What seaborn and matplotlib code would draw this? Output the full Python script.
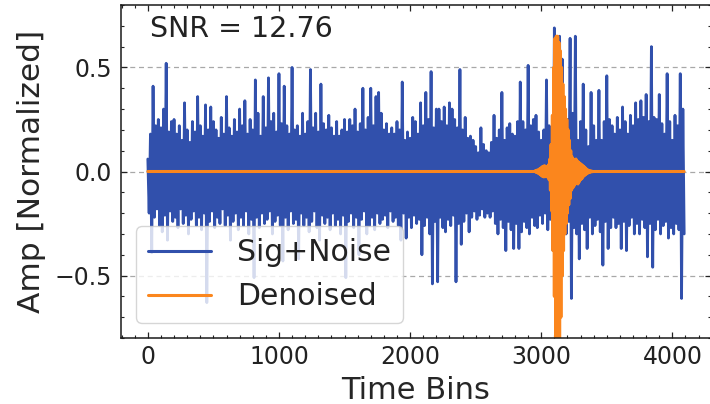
"""
Sig+Noise vs denoised trace, amplitude over time bins
"""

import numpy as np
import pandas as pd
import matplotlib
matplotlib.use("Agg")
import matplotlib.pyplot as plt
from matplotlib.ticker import MultipleLocator
import seaborn as sns

# Noisy trace: upper excursions (bins 0, 20, 40, ...)
peaks = [
    0.06, 0.18, 0.41, 0.22, 0.25, 0.21, 0.30, 0.52, 0.19, 0.24,
    0.25, 0.18, 0.22, 0.15, 0.33, 0.20, 0.14, 0.24, 0.19, 0.36,
    0.22, 0.17, 0.32, 0.20, 0.31, 0.24, 0.20, 0.16, 0.26, 0.18,
    0.36, 0.21, 0.17, 0.25, 0.19, 0.30, 0.22, 0.34, 0.18, 0.25,
    0.20, 0.44, 0.28, 0.17, 0.36, 0.21, 0.45, 0.24, 0.28, 0.19,
    0.47, 0.23, 0.41, 0.22, 0.18, 0.50, 0.20, 0.22, 0.17, 0.28,
    0.18, 0.24, 0.49, 0.21, 0.28, 0.19, 0.42, 0.23, 0.20, 0.27,
    0.21, 0.17, 0.24, 0.17, 0.20, 0.25, 0.19, 0.25, 0.22, 0.30,
    0.19, 0.23, 0.40, 0.20, 0.26, 0.40, 0.22, 0.36, 0.38, 0.28,
    0.20, 0.23, 0.18, 0.21, 0.18, 0.24, 0.20, 0.43, 0.15, 0.19,
    0.16, 0.26, 0.24, 0.18, 0.33, 0.22, 0.38, 0.25, 0.48, 0.21,
    0.30, 0.30, 0.24, 0.31, 0.22, 0.33, 0.30, 0.25, 0.21, 0.49,
    0.20, 0.26, 0.16, 0.17, 0.15, 0.12, 0.09, 0.21, 0.13, 0.10,
    0.09, 0.14, 0.27, 0.16, 0.20, 0.38, 0.15, 0.21, 0.23, 0.18,
    0.17, 0.24, 0.43, 0.24, 0.20, 0.51, 0.22, 0.25, 0.27, 0.19,
    0.15, 0.20, 0.44, 0.22, 0.17, 0.69, 0.30, 0.65, 0.54, 0.22,
    0.25, 0.64, 0.28, 0.65, 0.15, 0.24, 0.42, 0.20, 0.12, 0.38,
    0.22, 0.15, 0.39, 0.15, 0.24, 0.46, 0.25, 0.22, 0.18, 0.26,
    0.20, 0.31, 0.24, 0.18, 0.27, 0.22, 0.33, 0.25, 0.34, 0.26,
    0.37, 0.24, 0.60, 0.26, 0.25, 0.37, 0.23, 0.18, 0.47, 0.24,
    0.15, 0.27, 0.22, 0.47, 0.30,
]

# lower excursions (bins 10, 30, 50, ...)
troughs = [
    -0.20, -0.39, -0.22, -0.18, -0.26, -0.29, -0.21, -0.33, -0.19, -0.24,
    -0.22, -0.27, -0.18, -0.25, -0.21, -0.30, -0.23, -0.19, -0.26, -0.22,
    -0.28, -0.20, -0.63, -0.24, -0.19, -0.27, -0.22, -0.25, -0.18, -0.26,
    -0.21, -0.33, -0.24, -0.20, -0.28, -0.22, -0.26, -0.19, -0.30, -0.23,
    -0.51, -0.22, -0.27, -0.20, -0.25, -0.23, -0.19, -0.30, -0.24, -0.21,
    -0.26, -0.43, -0.22, -0.28, -0.19, -0.25, -0.23, -0.42, -0.20, -0.26,
    -0.22, -0.29, -0.24, -0.19, -0.27, -0.33, -0.21, -0.25, -0.22, -0.28,
    -0.20, -0.26, -0.23, -0.30, -0.21, -0.51, -0.24, -0.20, -0.27, -0.22,
    -0.40, -0.23, -0.19, -0.30, -0.26, -0.22, -0.28, -0.20, -0.25, -0.23,
    -0.21, -0.27, -0.19, -0.24, -0.22, -0.26, -0.33, -0.20, -0.32, -0.22,
    -0.27, -0.21, -0.25, -0.23, -0.40, -0.26, -0.22, -0.30, -0.54, -0.24,
    -0.53, -0.22, -0.27, -0.29, -0.23, -0.26, -0.21, -0.53, -0.25, -0.35,
    -0.24, -0.20, -0.29, -0.22, -0.19, -0.23, -0.21, -0.18, -0.22, -0.20,
    -0.22, -0.19, -0.25, -0.30, -0.23, -0.27, -0.38, -0.24, -0.28, -0.37,
    -0.25, -0.37, -0.29, -0.24, -0.27, -0.30, -0.22, -0.26, -0.27, -0.21,
    -0.25, -0.20, -0.28, -0.23, -0.38, -0.30, -0.85, -0.33, -0.26, -0.30,
    -0.24, -0.61, -0.27, -0.30, -0.42, -0.25, -0.28, -0.37, -0.22, -0.30,
    -0.26, -0.23, -0.29, -0.45, -0.24, -0.37, -0.27, -0.22, -0.27, -0.25,
    -0.37, -0.24, -0.38, -0.26, -0.22, -0.30, -0.25, -0.30, -0.23, -0.27,
    -0.41, -0.25, -0.46, -0.28, -0.23, -0.30, -0.26, -0.24, -0.32, -0.27,
    -0.30, -0.25, -0.28, -0.61, -0.30,
]

# Denoised output: flat zero except the event, read every 5 bins from bin 2950
burst_start = 2950
burst = [
    0.0, 0.004, -0.004, 0.006, -0.006, 0.008, -0.01, 0.012, -0.014, 0.016,
    -0.02, 0.022, -0.024, 0.025, -0.026, 0.028, -0.025, 0.024, -0.022, 0.024,
    -0.028, 0.032, -0.04, 0.06, -0.09, 0.13, -0.19, 0.27, -0.38, 0.50,
    -0.60, 0.64, -0.80, 0.65, -0.88, 0.65, -0.88, 0.62, -0.85, 0.58,
    -0.70, 0.50, -0.50, 0.42, -0.38, 0.36, -0.30, 0.30, -0.25, 0.25,
    -0.20, 0.20, -0.16, 0.15, -0.13, 0.10, -0.09, 0.07, -0.08, 0.06,
    -0.07, 0.05, -0.06, 0.06, -0.05, 0.05, -0.06, 0.045, -0.05, 0.04,
    -0.04, 0.035, -0.035, 0.03, -0.025, 0.025, -0.02, 0.018, -0.015, 0.012,
    -0.01, 0.008, -0.006, 0.005, -0.004, 0.003, -0.002, 0.002, -0.001, 0.0,
    0.0,
]

snr_text = "SNR = 12.76"

BLUE = "#3150ac"
ORANGE = "#fb861d"

# interleave the excursions into one trace
n = min(len(peaks), len(troughs))
sig = np.empty(2 * n)
sig[0::2] = peaks[:n]
sig[1::2] = troughs[:n]
noise_df = pd.DataFrame({"bin": np.arange(2 * n) * 10, "amp": sig})

last_bin = noise_df["bin"].iloc[-1]
burst_bins = burst_start + 5 * np.arange(len(burst))
den_df = pd.DataFrame({
    "bin": np.concatenate([[0], burst_bins, [last_bin]]),
    "amp": np.concatenate([[0.0], burst, [0.0]]),
})

sns.set_theme(style="ticks")
plt.rcParams.update({
    "font.family": ["DejaVu Sans"],
    "xtick.direction": "in",
    "ytick.direction": "in",
    "xtick.top": True,
    "ytick.right": True,
    "axes.edgecolor": "#1a1a1a",
    "axes.linewidth": 1.1,
    "text.color": "#222222",
    "xtick.color": "#222222",
    "ytick.color": "#222222",
})

fig = plt.figure(figsize=(7.1, 4.04), dpi=100)
ax = fig.add_axes([121 / 710, 66 / 404, 590 / 710, 333 / 404])

sns.lineplot(data=noise_df, x="bin", y="amp", ax=ax, color=BLUE, lw=2.0,
             label="Sig+Noise", estimator=None, sort=False)
sns.lineplot(data=den_df, x="bin", y="amp", ax=ax, color=ORANGE, lw=2.2,
             label="Denoised", estimator=None, sort=False)

ax.set_ylim(-0.8, 0.8)
ax.margins(x=0.05)
ax.xaxis.set_major_locator(MultipleLocator(1000))
ax.xaxis.set_minor_locator(MultipleLocator(100))
ax.yaxis.set_major_locator(MultipleLocator(0.5))
ax.yaxis.set_minor_locator(MultipleLocator(0.1))
ax.tick_params(which="major", length=4.5, width=0.9, labelsize=17)
ax.tick_params(which="minor", length=2.5, width=0.8)
ax.tick_params(axis="x", which="both", top=True, pad=5)
ax.tick_params(axis="y", which="both", right=True, pad=6.5)
ax.grid(axis="y", which="major", ls=(0, (4, 3)), color="#a8a8a8", lw=0.9)

ax.set_xlabel("Time Bins", fontsize=22, labelpad=5)
ax.set_ylabel("Amp [Normalized]", fontsize=22.5, labelpad=6)

ax.text(0.049, 0.904, snr_text, transform=ax.transAxes, fontsize=20.5,
        va="baseline", ha="left")

leg = ax.legend(loc="lower left", fontsize=21.5, handlelength=2.1,
                handletextpad=0.9, framealpha=0.8, edgecolor="#cccccc",
                fancybox=True)
for line in leg.get_lines():
    line.set_linewidth(2.2)

plt.savefig("out.png", dpi=100)
plt.close()
print("Saved: out.png")
